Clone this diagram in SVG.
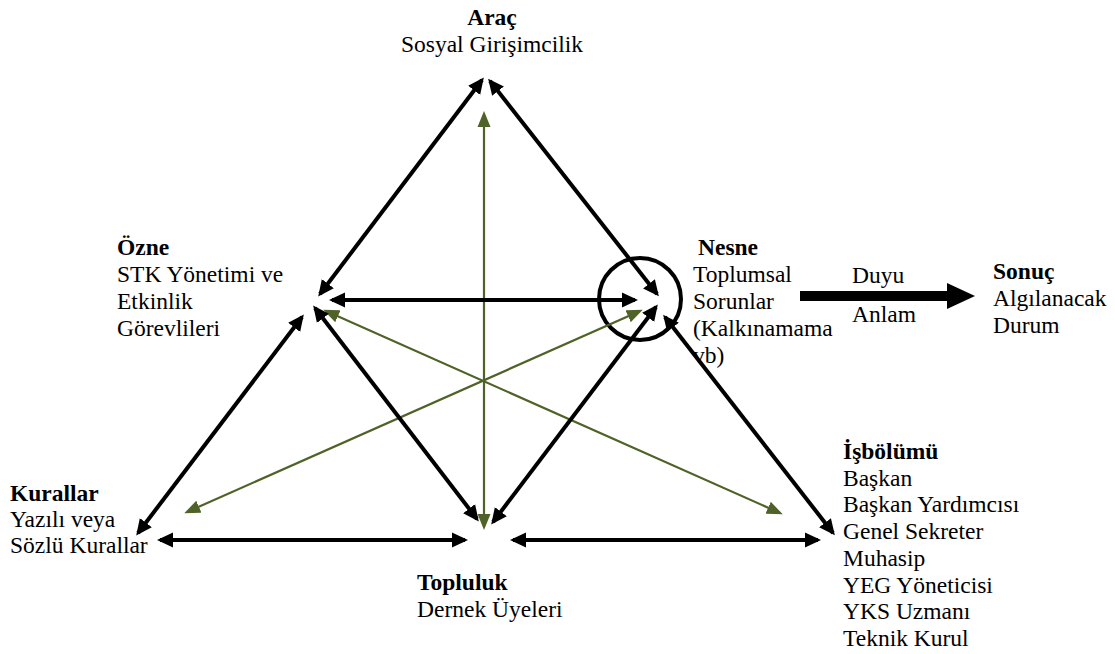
<svg xmlns="http://www.w3.org/2000/svg" width="1115" height="654" viewBox="0 0 1115 654" font-family="'Liberation Serif', 'Times New Roman', serif">
<style>
text{font-family:"Liberation Serif","Times New Roman",serif;font-size:23.5px;fill:#000}
.b{font-weight:bold}
.k{stroke:#000;stroke-width:4;fill:none;marker-start:url(#hk);marker-end:url(#hk)}
.g{stroke:#4F6228;stroke-width:2.2;fill:none;marker-start:url(#hg);marker-end:url(#hg)}
</style>
<defs>
<marker id="hk" markerUnits="userSpaceOnUse" markerWidth="16" markerHeight="16" viewBox="0 0 16 16" refX="13" refY="8" orient="auto-start-reverse"><path d="M0,0.5 L16,8 L0,15.5 z" fill="#000"/></marker>
<marker id="hg" markerUnits="userSpaceOnUse" markerWidth="16" markerHeight="14" viewBox="0 0 16 14" refX="13" refY="7" orient="auto-start-reverse"><path d="M0,0.5 L16,7 L0,13.5 z" fill="#4F6228"/></marker>
</defs>
<rect width="1115" height="654" fill="#fff"/>
<g id="arac"><text x="492" y="25" text-anchor="middle" class="b">Araç</text><text x="492" y="52" text-anchor="middle">Sosyal Girişimcilik</text></g>
<g id="ozne"><text x="117" y="255" class="b">Özne</text><text x="117" y="282">STK Yönetimi ve</text><text x="117" y="309">Etkinlik</text><text x="117" y="336">Görevlileri</text></g>
<g id="nesne"><text x="698" y="255" class="b">Nesne</text><text x="693" y="282">Toplumsal</text><text x="693" y="309">Sorunlar</text><text x="693" y="336">(Kalkınamama</text><text x="693" y="363">vb)</text><circle cx="640" cy="299" r="41" fill="none" stroke="#000" stroke-width="4"/></g>
<g id="duyu"><text x="852" y="283">Duyu</text><text x="852" y="322">Anlam</text><rect x="800" y="291" width="149" height="10" fill="#000"/><path d="M947,283 L975,296 L947,309 z" fill="#000"/></g>
<g id="sonuc"><text x="993" y="279" class="b">Sonuç</text><text x="993" y="306">Algılanacak</text><text x="993" y="333">Durum</text></g>
<g id="kurallar"><text x="10" y="501" class="b">Kurallar</text><text x="10" y="527">Yazılı veya</text><text x="10" y="553">Sözlü Kurallar</text></g>
<g id="topluluk"><text x="417" y="590" class="b">Topluluk</text><text x="417" y="617">Dernek Üyeleri</text></g>
<g id="isbolumu"><text x="843" y="459" class="b">İşbölümü</text><text x="843" y="485.7">Başkan</text><text x="843" y="512.4">Başkan Yardımcısı</text><text x="843" y="539.1">Genel Sekreter</text><text x="843" y="565.8">Muhasip</text><text x="843" y="592.5">YEG Yöneticisi</text><text x="843" y="619.2">YKS Uzmanı</text><text x="843" y="645.9">Teknik Kurul</text></g>
<g id="connectors">
<line class="g" x1="484" y1="114" x2="484" y2="527"/>
<line class="g" x1="326" y1="311" x2="780" y2="513"/>
<line class="g" x1="187" y1="512" x2="640" y2="311"/>
<line class="k" x1="482" y1="80" x2="320" y2="294"/>
<line class="k" x1="490" y1="81" x2="657" y2="294"/>
<line class="k" x1="332" y1="300" x2="635" y2="300"/>
<line class="k" x1="302" y1="317" x2="138" y2="533"/>
<line class="k" x1="315" y1="308" x2="477" y2="519"/>
<line class="k" x1="656" y1="307" x2="493" y2="522"/>
<line class="k" x1="665" y1="317" x2="833" y2="533"/>
<line class="k" x1="160" y1="540" x2="465" y2="540"/>
<line class="k" x1="513" y1="540" x2="818" y2="540"/>
</g>
</svg>
